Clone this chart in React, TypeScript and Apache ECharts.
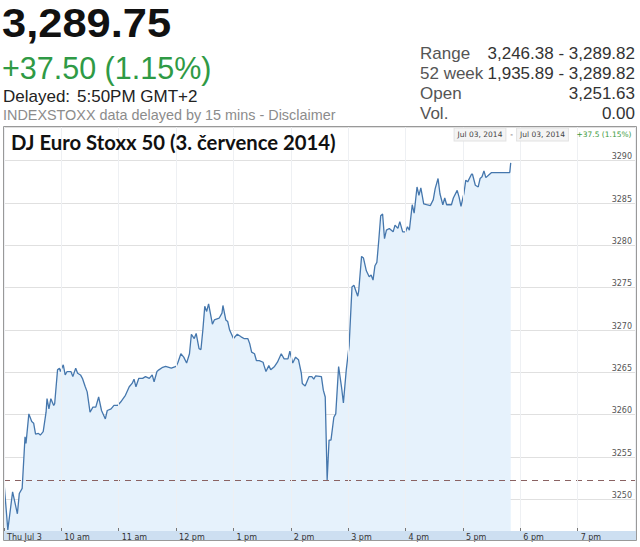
import { useEffect, useRef } from "react";
import * as echarts from "echarts";

// ---- data ----
const times = [
  "09:00", "09:04", "09:09", "09:14", "09:16", "09:19", "09:22", "09:23", "09:26", "09:29",
  "09:31", "09:33", "09:36", "09:38", "09:41", "09:44", "09:45", "09:47", "09:49", "09:52",
  "09:53", "09:56", "09:58", "09:59", "10:02", "10:04", "10:06", "10:10", "10:12", "10:15",
  "10:17", "10:20", "10:22", "10:25", "10:27", "10:30", "10:33", "10:36", "10:39", "10:42",
  "10:46", "10:48", "10:52", "10:55", "10:59", "11:02", "11:07", "11:11", "11:14", "11:16",
  "11:18", "11:21", "11:25", "11:28", "11:32", "11:35", "11:37", "11:40", "11:42", "11:46",
  "11:49", "11:55", "12:00", "12:02", "12:05", "12:08", "12:11", "12:14", "12:16", "12:19",
  "12:21", "12:24", "12:26", "12:28", "12:30", "12:32", "12:34", "12:38", "12:40", "12:45",
  "12:48", "12:49", "12:52", "12:54", "12:56", "13:00", "13:04", "13:08", "13:11", "13:15",
  "13:17", "13:19", "13:22", "13:24", "13:27", "13:31", "13:32", "13:34", "13:37", "13:39",
  "13:43", "13:46", "13:50", "13:53", "13:57", "13:59", "14:02", "14:05", "14:08", "14:11",
  "14:12", "14:15", "14:19", "14:22", "14:24", "14:26", "14:32", "14:34", "14:36", "14:38",
  "14:40", "14:42", "14:45", "14:47", "14:50", "14:53", "14:55", "14:58", "15:01", "15:04",
  "15:06", "15:10", "15:11", "15:14", "15:16", "15:19", "15:22", "15:24", "15:26", "15:28",
  "15:30", "15:32", "15:34", "15:36", "15:38", "15:40", "15:43", "15:47", "15:49", "15:52",
  "15:54", "15:57", "16:00", "16:02", "16:04", "16:07", "16:09", "16:12", "16:14", "16:16",
  "16:19", "16:22", "16:26", "16:29", "16:31", "16:34", "16:36", "16:39", "16:41", "16:43",
  "16:48", "16:50", "16:54", "16:56", "16:58", "17:01", "17:03", "17:05", "17:09", "17:10",
  "17:13", "17:16", "17:18", "17:20", "17:22", "17:24", "17:27", "17:30", "17:49", "17:50",
];

const prices = [
  3252.0, 3246.4, 3250.9, 3248.3, 3250.7, 3251.3, 3257.4, 3256.6, 3260.1, 3259.2,
  3259.0, 3257.7, 3257.8, 3257.6, 3258.0, 3260.3, 3261.9, 3260.7, 3261.9, 3261.1,
  3261.3, 3265.3, 3265.5, 3265.1, 3265.9, 3264.7, 3265.1, 3265.1, 3264.5, 3265.5,
  3264.9, 3264.7, 3264.3, 3263.3, 3262.7, 3260.3, 3260.9, 3260.9, 3262.1, 3260.5,
  3259.5, 3260.5, 3260.7, 3261.1, 3261.1, 3261.5, 3262.3, 3263.3, 3263.7, 3264.2,
  3263.3, 3264.3, 3264.3, 3264.5, 3264.3, 3264.7, 3263.9, 3265.1, 3265.3, 3265.6,
  3265.7, 3265.5, 3265.7, 3266.2, 3267.2, 3266.8, 3266.1, 3267.2, 3269.5, 3269.0,
  3269.6, 3267.8, 3267.7, 3270.0, 3272.8, 3272.2, 3273.1, 3270.7, 3271.2, 3271.4,
  3272.0, 3272.9, 3271.2, 3271.0, 3270.0, 3269.0, 3269.5, 3269.2, 3269.0, 3269.0,
  3268.4, 3267.4, 3267.2, 3266.4, 3266.4, 3266.2, 3265.8, 3265.1, 3265.8, 3265.3,
  3265.7, 3266.2, 3267.2, 3266.6, 3266.6, 3267.5, 3266.1, 3266.8, 3266.5, 3264.9,
  3263.7, 3263.4, 3264.5, 3264.5, 3264.2, 3264.6, 3264.5, 3262.9, 3262.1, 3252.3,
  3257.0, 3257.0, 3259.7, 3260.1, 3265.7, 3263.3, 3261.4, 3265.3, 3268.2, 3275.1,
  3275.3, 3274.0, 3274.6, 3278.7, 3278.5, 3277.0, 3276.3, 3276.5, 3275.9, 3277.6,
  3278.0, 3280.6, 3283.5, 3283.7, 3280.8, 3281.8, 3282.0, 3281.6, 3282.4, 3282.0,
  3282.8, 3281.6, 3281.6, 3282.2, 3281.8, 3284.8, 3283.8, 3286.9, 3285.9, 3286.8,
  3284.9, 3284.8, 3284.7, 3285.4, 3286.7, 3287.9, 3286.1, 3284.8, 3285.6, 3284.8,
  3284.8, 3285.6, 3286.5, 3285.7, 3284.6, 3286.1, 3287.7, 3287.5, 3288.4, 3288.4,
  3287.1, 3286.9, 3287.9, 3288.1, 3288.8, 3288.0, 3288.3, 3288.6, 3288.6, 3289.75,
];

const prevClose = 3252.25;

const xTickLabels = [
  "Thu Jul 3", "10 am", "11 am", "12 pm", "1 pm", "2 pm", "3 pm", "4 pm", "5 pm", "6 pm", "7 pm",
];

const lastValue = "3,289.75";
const changeText = "+37.50 (1.15%)";
const delayedLabel = "Delayed:";
const delayedTime = "5:50PM GMT+2";
const disclaimer = "INDEXSTOXX data delayed by 15 mins - Disclaimer";
const statLabels = ["Range", "52 week", "Open", "Vol."];
const statValues = ["3,246.38 - 3,289.82", "1,935.89 - 3,289.82", "3,251.63", "0.00"];
const chartTitle = "DJ Euro Stoxx 50 (3. července 2014)";
const rangeFrom = "Jul 03, 2014";
const rangeTo = "Jul 03, 2014";
const rangeChange = "+37.5 (1.15%)";

const toMinutes = (t: string) => {
  const [h, m] = t.split(":").map(Number);
  return h * 60 + m;
};

const ARIAL = "'Liberation Sans', Arial, sans-serif";
const SMALL = "'DejaVu Sans', Verdana, sans-serif";

export default function App() {
  const ref = useRef<HTMLDivElement>(null);

  useEffect(() => {
    if (!ref.current) return;
    const chart = echarts.init(ref.current, null, { renderer: "svg", width: 640, height: 547 });
    const data = times.map((t, i) => [toMinutes(t), prices[i]]);
    const statRowsY = [53, 73, 93, 113];

    chart.setOption({
      animation: false,
      backgroundColor: "#ffffff",
      grid: { left: 4, right: 5, top: 127, bottom: 16 },
      xAxis: {
        type: "value",
        min: 540,
        max: 1200,
        interval: 60,
        z: 10,
        axisLine: { show: false },
        axisTick: { show: true, inside: true, length: 3, lineStyle: { color: "#777" } },
        axisLabel: {
          formatter: (v: number) => xTickLabels[Math.round((v - 540) / 60)] ?? "",
          align: "left",
          margin: 2,
          padding: [0, 0, 0, 3],
          fontFamily: SMALL,
          fontSize: 8,
          color: "#333",
          showMaxLabel: false,
        },
        splitLine: { show: true, lineStyle: { color: "#eef0f3", width: 1 } },
      },
      yAxis: {
        type: "value",
        position: "right",
        min: 3246.27,
        max: 3293.98,
        splitNumber: 10,
        minInterval: 5,
        maxInterval: 5,
        axisLine: { show: false },
        axisTick: { show: false },
        axisLabel: {
          inside: true,
          verticalAlign: "bottom",
          margin: 3,
          fontFamily: SMALL,
          fontSize: 8,
          color: "#555",
          showMinLabel: false,
          showMaxLabel: false,
          formatter: (v: number) => String(Math.round(v)),
        },
        splitLine: { show: true, lineStyle: { color: "#e0e0e0", width: 1 } },
      },
      series: [
        {
          type: "line",
          data,
          showSymbol: false,
          lineStyle: { color: "#4577ad", width: 1.3 },
          areaStyle: { color: "#e6f2fc", opacity: 1, origin: "start" },
          markLine: {
            silent: true,
            symbol: ["none", "none"],
            label: { show: false },
            lineStyle: { color: "#8a6262", type: [6, 5], width: 1 },
            data: [{ yAxis: prevClose }],
          },
        },
      ],
      graphic: [
        {
          type: "rect",
          z: 1,
          shape: { x: 4, y: 531, width: 632, height: 10 },
          style: { fill: "#cddff1" },
        },
        {
          type: "rect",
          z: 100,
          shape: { x: 3.5, y: 126.5, width: 633, height: 414 },
          style: { fill: "none", stroke: "#999", lineWidth: 1 },
        },
        {
          type: "text",
          z: 100,
          x: 2,
          y: 23,
          scaleX: 1.06,
          style: {
            text: lastValue,
            fontFamily: ARIAL,
            fontWeight: "bold",
            fontSize: 41,
            fill: "#111",
            verticalAlign: "middle",
          },
        },
        {
          type: "text",
          z: 100,
          x: 2,
          y: 68,
          style: {
            text: changeText,
            fontFamily: ARIAL,
            fontSize: 30.5,
            fill: "#2f9a45",
            verticalAlign: "middle",
          },
        },
        {
          type: "text",
          z: 100,
          x: 3,
          y: 96,
          style: { text: delayedLabel, fontFamily: ARIAL, fontSize: 17, fill: "#222", verticalAlign: "middle" },
        },
        {
          type: "text",
          z: 100,
          x: 77,
          y: 96,
          style: { text: delayedTime, fontFamily: ARIAL, fontSize: 17, fill: "#222", verticalAlign: "middle" },
        },
        {
          type: "text",
          z: 100,
          x: 3,
          y: 115,
          style: { text: disclaimer, fontFamily: ARIAL, fontSize: 14.4, fill: "#8c8c8c", verticalAlign: "middle" },
        },
        ...statLabels.map((s, i) => ({
          type: "text",
          z: 100,
          x: 420,
          y: statRowsY[i],
          style: { text: s, fontFamily: ARIAL, fontSize: 17, fill: "#555", verticalAlign: "middle" },
        })),
        ...statValues.map((s, i) => ({
          type: "text",
          z: 100,
          x: 635,
          y: statRowsY[i],
          style: { text: s, fontFamily: ARIAL, fontSize: 17, fill: "#333", align: "right", verticalAlign: "middle" },
        })),
        {
          type: "text",
          z: 100,
          x: 11,
          y: 142,
          style: {
            text: chartTitle,
            fontFamily: "Lato, 'Open Sans', sans-serif",
            fontWeight: "bold",
            fontSize: 20.3,
            fill: "#111",
            verticalAlign: "middle",
          },
        },
        {
          type: "text",
          z: 100,
          x: 480,
          y: 134.5,
          style: {
            text: rangeFrom,
            fontFamily: SMALL,
            fontSize: 7.5,
            fill: "#444",
            align: "center",
            verticalAlign: "middle",
            backgroundColor: "#f4f4f4",
            borderColor: "#e2e2e2",
            borderWidth: 1,
            padding: [2, 3],
          },
        },
        {
          type: "text",
          z: 100,
          x: 511.5,
          y: 134.5,
          style: { text: "-", fontFamily: SMALL, fontSize: 7.5, fill: "#444", align: "center", verticalAlign: "middle" },
        },
        {
          type: "text",
          z: 100,
          x: 542.5,
          y: 134.5,
          style: {
            text: rangeTo,
            fontFamily: SMALL,
            fontSize: 7.5,
            fill: "#444",
            align: "center",
            verticalAlign: "middle",
            backgroundColor: "#f4f4f4",
            borderColor: "#e2e2e2",
            borderWidth: 1,
            padding: [2, 3],
          },
        },
        {
          type: "text",
          z: 100,
          x: 604,
          y: 134.5,
          style: {
            text: rangeChange,
            fontFamily: SMALL,
            fontSize: 7.5,
            fill: "#3c9a3c",
            align: "center",
            verticalAlign: "middle",
          },
        },
      ],
    });

    return () => chart.dispose();
  }, []);

  return (
    <div
      ref={ref}
      style={{ position: "absolute", left: 0, top: 0, width: 640, height: 547, background: "#fff" }}
    />
  );
}
